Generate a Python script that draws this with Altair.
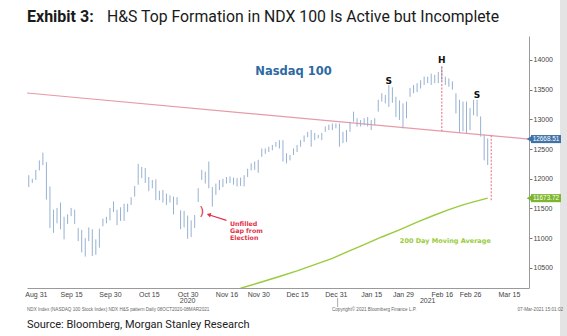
import altair as alt
import pandas as pd

# ------------------------------------------------------------------ data
HOLIDAYS = ["2020-09-07", "2020-11-26", "2020-12-25", "2021-01-01", "2021-01-18", "2021-02-15"]
FIRST_DAY = "2020-08-27"
LAST_DAY = "2021-03-05"
CAL_END = "2021-03-31"

# daily high / low of the NDX, one value per trading day from Aug 27 2020 to Mar 5 2021
HIGH = [12060, 12000, 12150, 12310, 12440, 12280, 11870, 11480, 11510, 11600,
        11360, 11400, 11510, 11480, 11170, 11140, 11000, 11180, 11150, 10980,
        11160, 11330, 11360, 11510, 11620, 11480, 11520, 11580, 11580, 11690,
        11880, 12250, 12200, 12180, 12030, 11980, 11990, 11800, 11810, 11750,
        11720, 11700, 11690, 11470, 11460, 11380, 11300, 11390, 11840, 12150,
        12120, 12290, 11860, 11920, 11980, 12000, 12030, 12040, 12020, 12010,
        12020, 12060, 12170, 12260, 12290, 12320, 12510, 12510, 12540, 12570,
        12620, 12650, 12650, 12430, 12400, 12510, 12570, 12650, 12730, 12790,
        12820, 12770, 12740, 12770, 12880, 12910, 12930, 12930, 12930, 12790,
        12820, 12960, 13130, 13020, 12990, 13020, 13040, 12990, 13020, 13330,
        13440, 13410, 13580, 13540, 13380, 13320, 13270, 13300, 13530, 13580,
        13610, 13660, 13720, 13720, 13770, 13750, 13800, 13890, 13720, 13690,
        13640, 13440, 13330, 13300, 13300, 13190, 13330, 13330, 13050, 12740,
        12680]
LOW = [11860, 11930, 11980, 12140, 12230, 11650, 11170, 11090, 11250, 11150,
       10980, 11240, 11370, 11240, 10950, 10760, 10690, 10950, 10700, 10720,
       10840, 11200, 11250, 11300, 11440, 11220, 11290, 11290, 11440, 11560,
       11700, 11900, 12010, 11930, 11790, 11840, 11640, 11640, 11600, 11560,
       11600, 11400, 11560, 11150, 11180, 10990, 11020, 11170, 11610, 11980,
       11920, 11840, 11530, 11730, 11810, 11860, 11920, 11930, 11900, 11870,
       11880, 11870, 12030, 12140, 12150, 12100, 12370, 12420, 12450, 12480,
       12540, 12510, 12290, 12260, 12310, 12400, 12450, 12540, 12620, 12700,
       12540, 12650, 12680, 12650, 12790, 12820, 12820, 12850, 12540, 12600,
       12620, 12790, 12960, 12880, 12880, 12900, 12880, 12820, 12900, 13130,
       13300, 13270, 13210, 13280, 13040, 12990, 12850, 13020, 13380, 13440,
       13460, 13520, 13580, 13610, 13580, 13610, 13610, 13640, 13580, 13550,
       13500, 13100, 12770, 12800, 12770, 12820, 13070, 13050, 12710, 12310,
       12230]

# neckline of the head & shoulders, value at the left and right edges of the plot
NECK_LEFT = 13444.0
NECK_RIGHT = 12668.51

# 200 day moving average
MA_DATES = ["2020-11-20", "2020-11-30", "2020-12-08", "2020-12-15", "2020-12-22",
            "2020-12-30", "2021-01-06", "2021-01-13", "2021-01-21", "2021-01-28",
            "2021-02-04", "2021-02-11", "2021-02-18", "2021-02-24", "2021-03-01",
            "2021-03-05"]
MA_VALUES = [10157, 10245, 10355, 10450, 10555, 10660, 10765, 10890, 11020, 11140,
             11270, 11390, 11480, 11560, 11610, 11673.72]

HEAD_DATE = "2021-02-16"
HEAD_HIGH = 13890
TARGET_DATE = "2021-03-08"
TARGET_LOW = 11640

TICK_DATES = ["2020-08-31", "2020-09-15", "2020-09-30", "2020-10-15", "2020-10-30",
              "2020-11-16", "2020-11-30", "2020-12-15", "2020-12-31", "2021-01-15",
              "2021-01-29", "2021-02-16", "2021-02-26", "2021-03-15"]
TICK_LABELS = ["Aug 31", "Sep 15", "Sep 30", "Oct 15", "Oct 30", "Nov 16", "Nov 30",
               "Dec 15", "Dec 31", "Jan 15", "Jan 29", "Feb 16", "Feb 26", "Mar 15"]
YEAR_LABELS = ["2020", "2021"]
YEAR_DATES = ["2020-10-30", "2021-02-09"]
Y_TICKS = [10500, 11000, 11500, 12000, 12500, 13000, 13500, 14000]

TITLE_BOLD = "Exhibit 3:"
TITLE_REST = "H&S Top Formation in NDX 100 Is Active but Incomplete"
SOURCE = "Source: Bloomberg, Morgan Stanley Research"
FOOT_LEFT = "NDX Index (NASDAQ 100 Stock Index) NDX H&S pattern  Daily 08OCT2020-08MAR2021"
FOOT_MID = "Copyright\u00a9 2021 Bloomberg Finance L.P."
FOOT_RIGHT = "07-Mar-2021 15:01:02"

# annotations: (date, value, text)
ANNOT_NASDAQ = ("2020-12-14", 13790, "Nasdaq 100")
ANNOT_HS = [("2021-01-25", 13640, "S"), ("2021-02-16", 14000, "H"), ("2021-03-02", 13410, "S")]
ANNOT_GAP = ("2020-11-17", 11240, "Unfilled\nGap from\nElection")
ANNOT_ARC = ("2020-11-05", 11440, ")")
ARROW_FROM = ("2020-11-16", 11300)
ARROW_TO = ("2020-11-09", 11395)
ANNOT_MA = ("2021-02-17", 10958, "200 Day Moving Average")

# ------------------------------------------------------------------ layout / style
W, H = 502, 252
XMIN, XMAX = -0.5, 141.7
YMIN, YMAX = 10161, 14404
BAR_COLOR = "#97b1d1"
NECK_COLOR = "#e99aa7"
RED = "#e0324a"
MA_COLOR = "#9acb3c"
BLUE_TAG = "#3f72a8"
GREEN_TAG = "#7db62c"
LABEL_FONT = "Liberation Sans"

cal = pd.bdate_range(FIRST_DAY, CAL_END, freq="C", holidays=HOLIDAYS)
pos = {d.strftime("%Y-%m-%d"): k for k, d in enumerate(cal)}
bar_days = [d for d in cal if d <= pd.Timestamp(LAST_DAY)]

bars = pd.DataFrame({"i": list(range(len(bar_days)))[:len(HIGH)], "v": LOW, "v2": HIGH})


def neck(i):
    return NECK_LEFT + (NECK_RIGHT - NECK_LEFT) * (i - XMIN) / (XMAX - XMIN)


neck_df = pd.DataFrame({"i": [XMIN, XMAX], "v": [NECK_LEFT, NECK_RIGHT]})
vlines = pd.DataFrame({
    "i": [pos[HEAD_DATE], pos[TARGET_DATE]],
    "v": [HEAD_HIGH, TARGET_LOW],
    "v2": [neck(pos[HEAD_DATE]), neck(pos[TARGET_DATE])],
})
ma_df = pd.DataFrame({"i": [pos[d] for d in MA_DATES], "v": MA_VALUES})

tick_idx = [pos[d] for d in TICK_DATES]
label_expr = "".join(f"datum.value == {k} ? '{lab}' : " for k, lab in zip(tick_idx, TICK_LABELS)) + "''"

xscale = alt.Scale(domain=[XMIN, XMAX], nice=False, zero=False)
yscale = alt.Scale(domain=[YMIN, YMAX], nice=False, zero=False)
xaxis = alt.Axis(values=tick_idx, labelExpr=label_expr, ticks=False, grid=False,
                 domainColor="#9a9a9a", labelFontSize=7, labelColor="#444444",
                 labelFont=LABEL_FONT, labelPadding=2, title=None,
                 labelFlush=False, labelOverlap=False)
yaxis = alt.Axis(orient="right", values=Y_TICKS, format="d", grid=False, tickSize=3,
                 tickColor="#777777", domainColor="#9a9a9a", labelFontSize=7,
                 labelColor="#444444", labelFont=LABEL_FONT, labelPadding=1, title=None)


def X(field="i"):
    return alt.X(f"{field}:Q", scale=xscale, axis=xaxis)


def Y(field="v"):
    return alt.Y(f"{field}:Q", scale=yscale, axis=yaxis)


bar_layer = alt.Chart(bars).mark_rule(color=BAR_COLOR, strokeWidth=1).encode(
    x=X(), y=Y(), y2="v2:Q")

neck_layer = alt.Chart(neck_df).mark_line(color=NECK_COLOR, strokeWidth=1.2).encode(x=X(), y=Y())

vline_layer = alt.Chart(vlines).mark_rule(color="#e5556a", strokeWidth=1.1, strokeDash=[2, 1.5],
                                          opacity=0.8).encode(x=X(), y=Y(), y2="v2:Q")

ma_layer = alt.Chart(ma_df).mark_line(color=MA_COLOR, strokeWidth=1.4, clip=True).encode(x=X(), y=Y())


def point_df(items):
    return pd.DataFrame({"i": [pos[d] for d, _, _ in items], "v": [v for _, v, _ in items],
                         "t": [t for _, _, t in items]})


nasdaq_layer = alt.Chart(point_df([ANNOT_NASDAQ])).mark_text(
    font="DejaVu Sans", fontWeight="bold", fontSize=11.5, color="#2d6aa3",
    align="center", baseline="middle").encode(x=X(), y=Y(), text="t:N")

hs_layer = alt.Chart(point_df(ANNOT_HS)).mark_text(
    font="DejaVu Sans", fontWeight="bold", fontSize=9, color="#111111",
    align="center", baseline="middle").encode(x=X(), y=Y(), text="t:N")

gap_layer = alt.Chart(point_df([ANNOT_GAP])).mark_text(
    font="DejaVu Sans", fontWeight="bold", fontSize=6.3, color=RED, lineBreak="\n",
    lineHeight=7, align="left", baseline="middle").encode(x=X(), y=Y(), text="t:N")

arc_layer = alt.Chart(point_df([ANNOT_ARC])).mark_text(
    font="DejaVu Sans", fontSize=13, color=RED, align="center",
    baseline="middle").encode(x=X(), y=Y(), text="t:N")

arrow_df = pd.DataFrame({"i": [pos[ARROW_FROM[0]], pos[ARROW_TO[0]]],
                         "v": [ARROW_FROM[1], ARROW_TO[1]]})
arrow_line = alt.Chart(arrow_df).mark_line(color=RED, strokeWidth=1.2).encode(x=X(), y=Y())
arrow_head = alt.Chart(arrow_df.iloc[[1]]).mark_point(
    shape="triangle-left", filled=True, size=22, color=RED, opacity=1, angle=18).encode(x=X(), y=Y())

ma_text = alt.Chart(point_df([ANNOT_MA])).mark_text(
    font="DejaVu Sans", fontWeight="bold", fontSize=6.5, color=MA_COLOR,
    align="center", baseline="middle").encode(x=X(), y=Y(), text="t:N")

# price tags on the right axis
tags = pd.DataFrame({"v": [NECK_RIGHT, MA_VALUES[-1]],
                     "t": [f"{NECK_RIGHT:.2f}", f"{MA_VALUES[-1]:.2f}"],
                     "c": [BLUE_TAG, GREEN_TAG]})
tags["lo"] = tags["v"] - 68
tags["hi"] = tags["v"] + 68
tag_rect = alt.Chart(tags).mark_rect().encode(
    x=alt.value(W + 2), x2=alt.value(W + 32), y=Y("lo"), y2="hi:Q",
    color=alt.Color("c:N", scale=None))
tag_tip = alt.Chart(tags).mark_point(shape="triangle-left", filled=True, size=30, opacity=1).encode(
    x=alt.value(W), y=Y(), color=alt.Color("c:N", scale=None))
tag_text = alt.Chart(tags).mark_text(font=LABEL_FONT, fontSize=6.4, color="white",
                                     align="center", baseline="middle").encode(
    x=alt.value(W + 17), y=Y(), text="t:N")

years = pd.DataFrame({"i": [pos[d] for d in YEAR_DATES], "t": YEAR_LABELS})
year_layer = alt.Chart(years).mark_text(font=LABEL_FONT, fontSize=7, color="#444444",
                                        baseline="middle").encode(
    x=X(), y=alt.value(H + 13), text="t:N")

sep_df = pd.DataFrame({"i": [pos["2020-12-31"] + 0.5]})
sep_layer = alt.Chart(sep_df).mark_rule(color="#aaaaaa", strokeWidth=1).encode(
    x=X(), y=alt.value(H + 10), y2=alt.value(H + 19))


def fixed_text(t, x, y, **kw):
    return alt.Chart(pd.DataFrame({"t": [t]})).mark_text(baseline="middle", **kw).encode(
        x=alt.value(x), y=alt.value(y), text="t:N")


title_b = fixed_text(TITLE_BOLD, 0, -19, align="left", font="Roboto", fontSize=16,
                     fontWeight="bold", color="#1a1a1a")
title_r = fixed_text(TITLE_REST, 80, -19, align="left", font="Roboto", fontSize=15.8,
                     color="#1a1a1a")
source_t = fixed_text(SOURCE, 0, 289, align="left", font="Roboto", fontSize=11, color="#222222")
foot_l = fixed_text(FOOT_LEFT, 0, 274, align="left", font=LABEL_FONT, fontSize=4.6, color="#666666")
foot_m = fixed_text(FOOT_MID, 305, 274, align="left", font=LABEL_FONT, fontSize=4.6, color="#666666")
foot_r = fixed_text(FOOT_RIGHT, 536, 274, align="right", font=LABEL_FONT, fontSize=4.6, color="#666666")

edge = alt.Chart(pd.DataFrame({"a": [0]})).mark_rect(color="#e4e4e4").encode(
    x=alt.value(W + 31), x2=alt.value(W + 40), y=alt.value(-36), y2=alt.value(H + 48))

chart = alt.layer(
    edge, neck_layer, ma_layer, bar_layer, vline_layer,
    nasdaq_layer, hs_layer, gap_layer, arc_layer, arrow_line, arrow_head, ma_text,
    tag_rect, tag_tip, tag_text, year_layer, sep_layer,
    title_b, title_r, source_t, foot_l, foot_m, foot_r,
).properties(
    width=W, height=H,
    padding={"left": 27, "top": 36, "right": 38, "bottom": 48},
    autosize=alt.AutoSizeParams(type="none"),
    background="white",
).configure_view(stroke=None)

chart.save("out.html", embed_options={"renderer": "svg", "actions": False})
